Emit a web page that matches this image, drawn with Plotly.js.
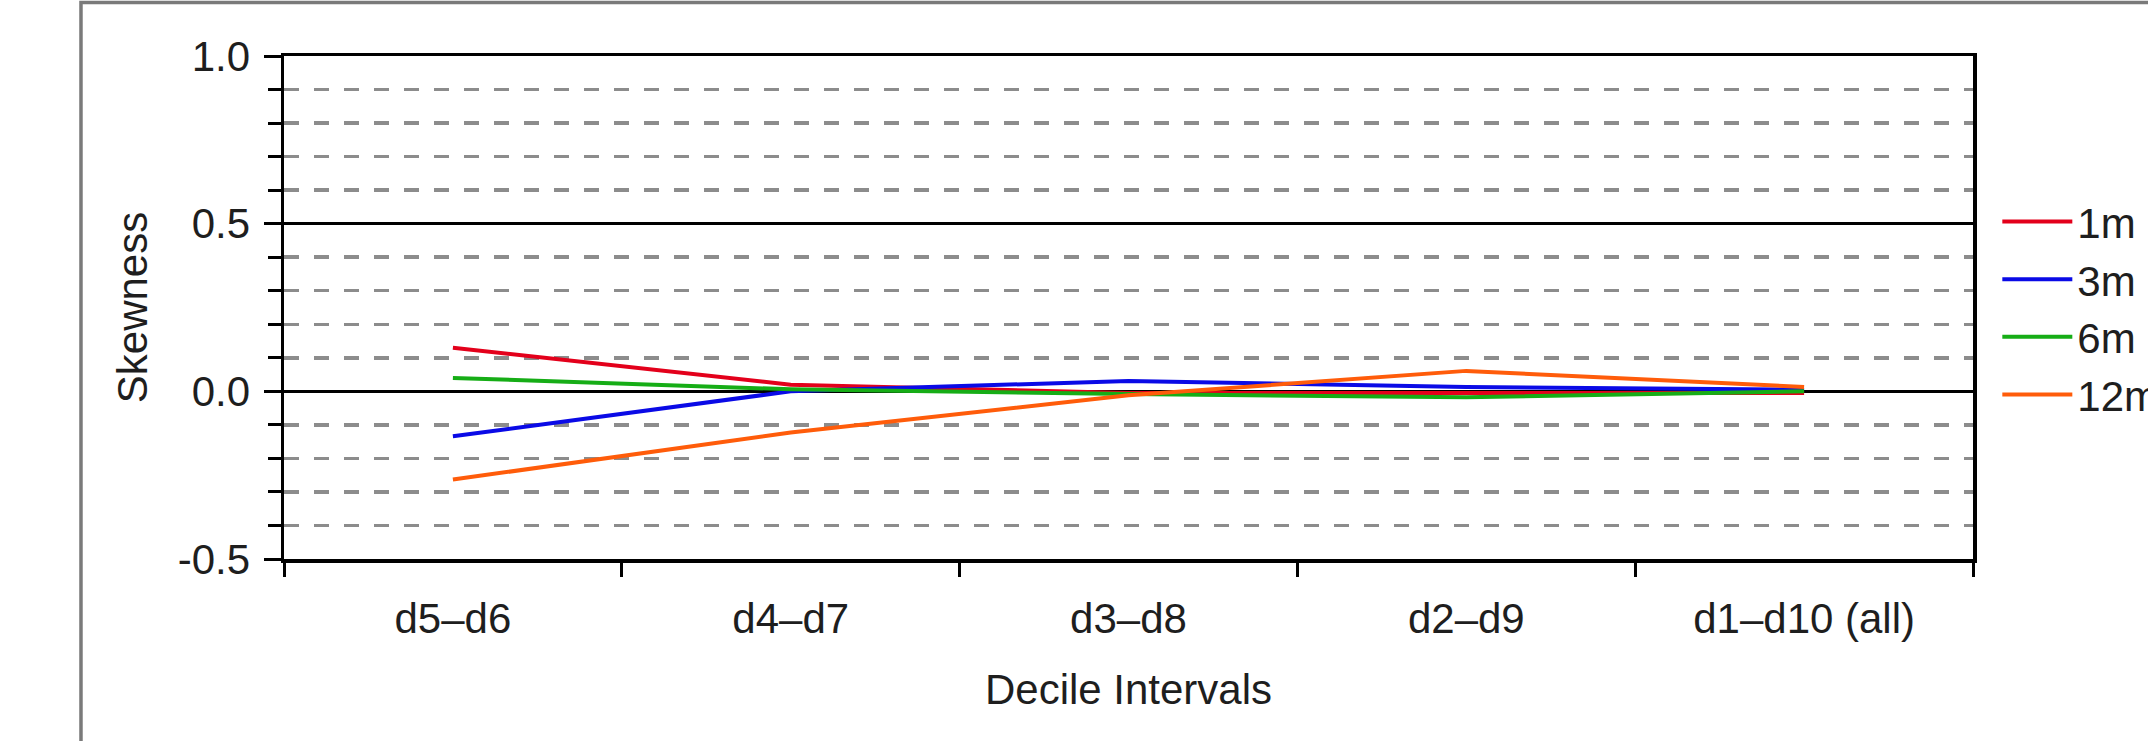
<!DOCTYPE html>
<html>
<head>
<meta charset="utf-8">
<script src="https://cdn.plot.ly/plotly-3.0.1.min.js"></script>
<style>
html,body{margin:0;padding:0;background:#fff;}
#chart{width:2148px;height:741px;}
</style>
</head>
<body>
<div id="chart"></div>
<script>
// ---- data ----
const categories = ['d5–d6', 'd4–d7', 'd3–d8', 'd2–d9', 'd1–d10 (all)'];
const seriesNames = ['1m', '3m', '6m', '12m'];
const skew1m  = [0.130, 0.020, -0.005, -0.005, -0.005];
const skew3m  = [-0.134, 0.000, 0.031, 0.013, 0.005];
const skew6m  = [0.040, 0.006, -0.008, -0.018, 0.000];
const skew12m = [-0.263, -0.123, -0.012, 0.061, 0.013];
const yTickVals = [-0.5, 0.0, 0.5, 1.0];
const yTickText = ['-0.5', '0.0', '0.5', '1.0'];

const colors = ['#e3001b', '#0a0ae6', '#16ad16', '#ff5c0a'];
const values = [skew1m, skew3m, skew6m, skew12m];

const FONT = '"Liberation Sans", Arial, Helvetica, sans-serif';
const TXT = '#1e1e1e';

const traces = values.map((v, i) => ({
  type: 'scatter',
  mode: 'lines',
  name: seriesNames[i],
  x: categories,
  y: v,
  line: {color: colors[i], width: 4},
  hoverinfo: 'skip'
}));

const layout = {
  width: 2148,
  height: 741,
  paper_bgcolor: '#ffffff',
  plot_bgcolor: '#ffffff',
  margin: {l: 284, r: 175, t: 56, b: 182, autoexpand: false},
  font: {family: FONT, size: 42, color: TXT},
  showlegend: true,
  legend: {
    x: 1.0144, xanchor: 'left',
    y: 0.738, yanchor: 'top',
    font: {family: FONT, size: 42, color: TXT},
    bgcolor: 'rgba(0,0,0,0)',
    borderwidth: 0,
    tracegroupgap: 0,
    itemwidth: 70
  },
  xaxis: {
    type: 'category',
    range: [-0.5, 4.5],
    showline: true, linecolor: '#000', linewidth: 3.5, mirror: true,
    ticks: 'outside', tickson: 'boundaries', ticklen: 14, tickwidth: 3, tickcolor: '#000',
    showgrid: false, zeroline: false,
    tickfont: {family: FONT, size: 42, color: TXT},
    ticklabelstandoff: 20,
    title: {text: 'Decile Intervals', font: {family: FONT, size: 42, color: TXT}, standoff: 34},
    automargin: false,
    fixedrange: true
  },
  yaxis: {
    range: [-0.5, 1.0],
    tickmode: 'array', tickvals: yTickVals, ticktext: yTickText,
    showline: true, linecolor: '#000', linewidth: 3.5, mirror: true,
    ticks: 'outside', ticklen: 17, tickwidth: 3, tickcolor: '#000',
    showgrid: true, gridcolor: '#000', gridwidth: 3,
    zeroline: false,
    tickfont: {family: FONT, size: 42, color: TXT},
    ticklabelstandoff: 5,
    minor: {
      dtick: 0.1, tick0: 0,
      ticks: 'outside', ticklen: 13, tickwidth: 3, tickcolor: '#000',
      showgrid: true, gridcolor: '#8c8c8c', gridwidth: 3.5, griddash: '15px,15px'
    },
    title: {text: 'Skewness', font: {family: FONT, size: 42, color: TXT}, standoff: 18},
    automargin: false,
    fixedrange: true
  },
  shapes: [
    {type: 'rect', xref: 'paper', yref: 'paper', x0: -0.1202, x1: 1.3, y0: -0.5, y1: 1.1066,
     line: {color: '#7a7a7a', width: 3.5}, fillcolor: 'rgba(0,0,0,0)', layer: 'below'}
  ],
  hovermode: false
};

Plotly.newPlot('chart', traces, layout, {displayModeBar: false, staticPlot: true});
</script>
</body>
</html>
